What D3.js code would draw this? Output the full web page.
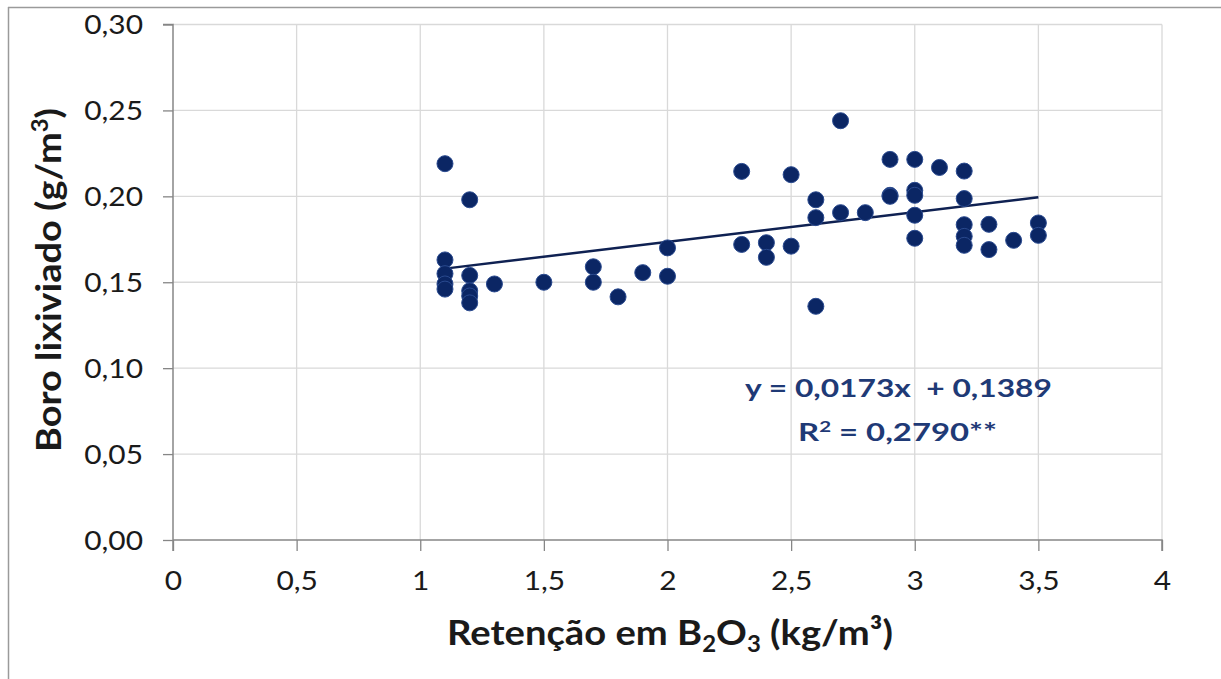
<!DOCTYPE html>
<html><head><meta charset="utf-8">
<script src="https://cdn.jsdelivr.net/npm/d3@7"></script>
<style>
html,body{margin:0;padding:0;background:#fff;}
svg{display:block;}
</style></head>
<body>
<svg id="chart" width="1221" height="679"></svg>
<script>
// Data
const retencao = [1.1,1.1,1.1,1.1,1.1, 1.2,1.2,1.2,1.2,1.2, 1.3, 1.5, 1.7,1.7, 1.8, 1.9, 2.0,2.0,
  2.3,2.3, 2.4,2.4, 2.5,2.5, 2.6,2.6,2.6, 2.7,2.7, 2.8, 2.9,2.9,2.9, 3.0,3.0,3.0,3.0,3.0, 3.1,
  3.2,3.2,3.2,3.2,3.2, 3.3,3.3, 3.4, 3.5,3.5];
const boro = [0.219,0.163,0.155,0.149,0.146, 0.198,0.154,0.145,0.142,0.138, 0.149, 0.150, 0.159,0.150, 0.1415, 0.1556, 0.170,0.1535,
  0.2145,0.172, 0.173,0.1645, 0.2126,0.171, 0.198,0.1876,0.136, 0.244,0.1905, 0.1905, 0.2215,0.2006,0.2000, 0.2215,0.2035,0.2006,0.189,0.1756, 0.2168,
  0.2147,0.1987,0.1835,0.1767,0.1715, 0.1837,0.169, 0.1744, 0.1845,0.1773];
const xTicks = [0,0.5,1,1.5,2,2.5,3,3.5,4];
const yTicks = [0,0.05,0.10,0.15,0.20,0.25,0.30];
const slope = 0.0173, intercept = 0.1389;
const trendRange = [1.1, 3.5];
const eqLine1 = "y = 0,0173x  + 0,1389";
const r2Text = "0,2790**";

const svg = d3.select("#chart");
const x = d3.scaleLinear().domain([0,4]).range([173,1162]);
const y = d3.scaleLinear().domain([0,0.30]).range([540,24.5]);
const fmtX = d => String(d).replace(".", ",");
const fmtY = d => d.toFixed(2).replace(".", ",");
const FONT = "Lato";

// stretch a text element horizontally (in its own coordinates) to a target width
function fitWidth(sel, cx, cy, target, rotate) {
  const w = sel.node().getBBox().width;
  const s = target / w;
  sel.attr("transform", `translate(${cx},${cy})${rotate ? " rotate(" + rotate + ")" : ""} scale(${s},1)`);
}

// outer frame (top & left)
svg.append("line").attr("x1",8).attr("x2",1221).attr("y1",7.5).attr("y2",7.5).attr("stroke","#9a9a9a").attr("stroke-width",1.5);
svg.append("line").attr("x1",8.5).attr("x2",8.5).attr("y1",7).attr("y2",679).attr("stroke","#9a9a9a").attr("stroke-width",1.5);

// grid
const g = svg.append("g");
g.selectAll(".gx").data(xTicks.slice(1)).join("line")
  .attr("x1",d=>x(d)).attr("x2",d=>x(d)).attr("y1",y(0.30)).attr("y2",y(0))
  .attr("stroke","#d9d9d9").attr("stroke-width",1.3);
g.selectAll(".gy").data(yTicks.slice(1)).join("line")
  .attr("x1",x(0)).attr("x2",x(4)).attr("y1",d=>y(d)).attr("y2",d=>y(d))
  .attr("stroke","#d9d9d9").attr("stroke-width",1.3);

// axes
const xAxis = d3.axisBottom(x).tickValues(xTicks).tickFormat(fmtX).tickSize(11).tickPadding(21);
const yAxis = d3.axisLeft(y).tickValues(yTicks).tickFormat(fmtY).tickSize(10).tickPadding(20);
const gx = svg.append("g").attr("transform",`translate(0,${y(0)})`).call(xAxis);
const gy = svg.append("g").attr("transform",`translate(${x(0)},0)`).call(yAxis);
[gx,gy].forEach(a=>{
  a.select(".domain").attr("stroke","#868686").attr("stroke-width",1.5);
  a.selectAll(".tick line").attr("stroke","#868686").attr("stroke-width",1.3);
  a.selectAll(".tick text").attr("fill","#1a1a1a").style("font-family",FONT).style("font-size","26px");
});
gy.select(".domain").attr("d",`M-10,${y(0.30)}H0V${y(0)+11}`);
gx.select(".domain").attr("d",`M${x(0)},0H${x(4)}V11`);
gx.selectAll(".tick text").each(function(){
  const t = d3.select(this);
  const yy = +t.attr("y");
  t.attr("y",0).attr("dy","0.71em").attr("transform",`translate(0,${yy}) scale(1.15,1)`);
});
gy.selectAll(".tick text").each(function(){
  const t = d3.select(this);
  const xx = +t.attr("x");
  t.attr("x",0).attr("dy","0.36em").attr("transform",`translate(${xx},0) scale(1.15,1)`);
});

// trend line
svg.append("line")
  .attr("x1",x(trendRange[0])).attr("y1",y(slope*trendRange[0]+intercept))
  .attr("x2",x(trendRange[1])).attr("y2",y(slope*trendRange[1]+intercept))
  .attr("stroke","#0f2152").attr("stroke-width",2.5);

// points
svg.append("g").selectAll("circle").data(retencao.map((d,i)=>[d,boro[i]])).join("circle")
  .attr("cx",d=>x(d[0])).attr("cy",d=>y(d[1])).attr("r",8)
  .attr("fill","#0b2664").attr("stroke","#2a4a8f").attr("stroke-width",1);

// equation
const eq = svg.append("g").style("font-family",FONT).style("font-weight","bold").attr("fill","#1f3a76");
const t1 = eq.append("text").attr("text-anchor","middle").style("font-size","24px").style("white-space","pre").text(eqLine1);
fitWidth(t1, 898.5, 397, 307);
const t2 = eq.append("text").attr("text-anchor","middle").style("font-size","24px");
t2.append("tspan").text("R");
t2.append("tspan").attr("dy",-9).style("font-size","15px").text("2");
t2.append("tspan").attr("dy",9).text(" = " + r2Text);
fitWidth(t2, 897.5, 441, 199);

// axis titles
const xt = svg.append("text").attr("text-anchor","middle")
  .style("font-family",FONT).style("font-weight","bold").style("font-size","35px").attr("fill","#1a1a1a");
xt.append("tspan").text("Retenção em B");
xt.append("tspan").attr("dy",7).style("font-size","22px").text("2");
xt.append("tspan").attr("dy",-7).text("O");
xt.append("tspan").attr("dy",7).style("font-size","22px").text("3");
xt.append("tspan").attr("dy",-7).text(" (kg/m³)");
fitWidth(xt, 670, 645, 446);

const yt = svg.append("text").attr("text-anchor","middle")
  .style("font-family",FONT).style("font-weight","bold").style("font-size","35px").attr("fill","#1a1a1a");
yt.append("tspan").text("Boro lixiviado (g/m");
yt.append("tspan").attr("dy",-13).style("font-size","22px").text("3");
yt.append("tspan").attr("dy",13).text(")");
fitWidth(yt, 61, 280, 344, -90);
</script>
</body></html>
